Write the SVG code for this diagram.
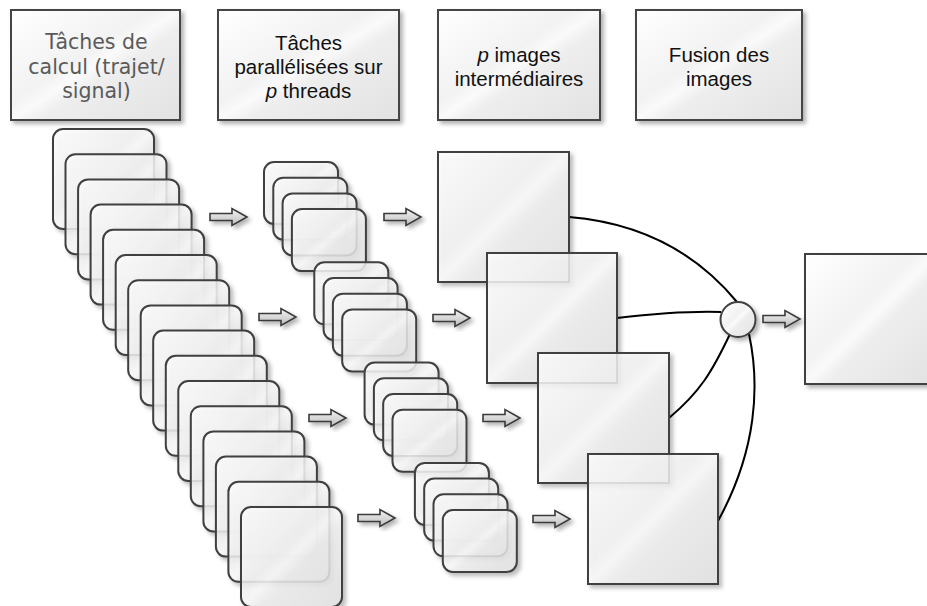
<svg xmlns="http://www.w3.org/2000/svg" xmlns:xlink="http://www.w3.org/1999/xlink" width="927" height="606" viewBox="0 0 927 606">
<defs>
<linearGradient id="g" x1="0" y1="0" x2="1" y2="1">
<stop offset="0" stop-color="#ffffff"/>
<stop offset="0.42" stop-color="#f2f2f2"/>
<stop offset="0.5" stop-color="#fafafa"/>
<stop offset="0.58" stop-color="#eeeeee"/>
<stop offset="1" stop-color="#e2e2e2"/>
</linearGradient>
<linearGradient id="ga" x1="0" y1="0" x2="0" y2="1">
<stop offset="0" stop-color="#f4f4f4"/>
<stop offset="1" stop-color="#bdbdbd"/>
</linearGradient>
<filter id="sh" x="-20%" y="-20%" width="150%" height="150%">
<feDropShadow dx="3" dy="3" stdDeviation="2" flood-color="#000" flood-opacity="0.3"/>
</filter>
<path id="arr" d="M0,-3.5 H22 V-8.5 L37,0 L22,8.5 V3.5 H0 Z"/>
</defs>
<style>
.hdr{fill:url(#g);stroke:#444;stroke-width:2;filter:url(#sh)}
.rs{fill:url(#g);fill-opacity:0.82;stroke:#404040;stroke-width:2;filter:url(#sh)}
.in{fill:none;stroke:#ffffff;stroke-width:1.2;opacity:0.7}
.sq{fill:url(#g);fill-opacity:0.82;stroke:#404040;stroke-width:2;filter:url(#sh)}
.ar{fill:url(#ga);stroke:#3a3a3a;stroke-width:1.6;filter:url(#sh)}
.t1{font-family:"DejaVu Sans",Verdana,sans-serif;font-size:20.5px;fill:#5a5a5a;text-anchor:middle}
.t2{font-family:"Liberation Sans",Arial,Helvetica,sans-serif;font-size:20.5px;fill:#111;text-anchor:middle}
.cn{fill:none;stroke:#000;stroke-width:2}
</style>
<rect width="927" height="606" fill="#fff"/>

<g id="h1"><rect class="hdr" x="11" y="10" width="169" height="110"/>
<text class="t1"><tspan x="96.5" y="49">Tâches de</tspan><tspan x="96.5" y="73.5">calcul (trajet/</tspan><tspan x="96.5" y="98">signal)</tspan></text></g>
<g id="h2"><rect class="hdr" x="218" y="10" width="181" height="110"/>
<text class="t2"><tspan x="308.5" y="50">Tâches</tspan><tspan x="308.5" y="74">parallélisées sur</tspan><tspan x="308.5" y="98"><tspan font-style="italic">p</tspan> threads</tspan></text></g>
<g id="h3"><rect class="hdr" x="438" y="10" width="162" height="110"/>
<text class="t2"><tspan x="519" y="62"><tspan font-style="italic">p</tspan> images</tspan><tspan x="519" y="86">intermédiaires</tspan></text></g>
<g id="h4"><rect class="hdr" x="636" y="10" width="166" height="110"/>
<text class="t2"><tspan x="719" y="62">Fusion des</tspan><tspan x="719" y="86">images</tspan></text></g>

<g id="tasks">
<g id="t0"><rect class="rs" x="53" y="129" width="101" height="100" rx="10"/></g>
<g id="t1"><rect class="rs" x="65.5" y="154.2" width="101" height="100" rx="10"/></g>
<g id="t2"><rect class="rs" x="78.1" y="179.4" width="101" height="100" rx="10"/></g>
<g id="t3"><rect class="rs" x="90.6" y="204.6" width="101" height="100" rx="10"/></g>
<g id="t4"><rect class="rs" x="103.1" y="229.8" width="101" height="100" rx="10"/></g>
<g id="t5"><rect class="rs" x="115.7" y="255" width="101" height="100" rx="10"/></g>
<g id="t6"><rect class="rs" x="128.2" y="280.2" width="101" height="100" rx="10"/></g>
<g id="t7"><rect class="rs" x="140.7" y="305.4" width="101" height="100" rx="10"/></g>
<g id="t8"><rect class="rs" x="153.2" y="330.6" width="101" height="100" rx="10"/></g>
<g id="t9"><rect class="rs" x="165.8" y="355.8" width="101" height="100" rx="10"/></g>
<g id="t10"><rect class="rs" x="178.3" y="381" width="101" height="100" rx="10"/></g>
<g id="t11"><rect class="rs" x="190.8" y="406.2" width="101" height="100" rx="10"/></g>
<g id="t12"><rect class="rs" x="203.4" y="431.4" width="101" height="100" rx="10"/></g>
<g id="t13"><rect class="rs" x="215.9" y="456.6" width="101" height="100" rx="10"/></g>
<g id="t14"><rect class="rs" x="228.4" y="481.8" width="101" height="100" rx="10"/></g>
<g id="t15"><rect class="rs" x="241" y="507" width="101" height="100" rx="10"/></g>
</g>

<g id="threads">
<g id="p0a"><rect class="rs" x="264" y="162" width="74" height="62" rx="10"/></g>
<g id="p0b"><rect class="rs" x="273.3" y="177.7" width="74" height="62" rx="10"/></g>
<g id="p0c"><rect class="rs" x="282.6" y="193.4" width="74" height="62" rx="10"/></g>
<g id="p0d"><rect class="rs" x="291.9" y="209.1" width="74" height="62" rx="10"/></g>
<g id="p1a"><rect class="rs" x="314.3" y="262.3" width="74" height="62" rx="10"/></g>
<g id="p1b"><rect class="rs" x="323.6" y="278" width="74" height="62" rx="10"/></g>
<g id="p1c"><rect class="rs" x="332.9" y="293.7" width="74" height="62" rx="10"/></g>
<g id="p1d"><rect class="rs" x="342.2" y="309.4" width="74" height="62" rx="10"/></g>
<g id="p2a"><rect class="rs" x="364.6" y="362.6" width="74" height="62" rx="10"/></g>
<g id="p2b"><rect class="rs" x="373.9" y="378.3" width="74" height="62" rx="10"/></g>
<g id="p2c"><rect class="rs" x="383.2" y="394" width="74" height="62" rx="10"/></g>
<g id="p2d"><rect class="rs" x="392.5" y="409.7" width="74" height="62" rx="10"/></g>
<g id="p3a"><rect class="rs" x="414.9" y="462.9" width="74" height="62" rx="10"/></g>
<g id="p3b"><rect class="rs" x="424.2" y="478.6" width="74" height="62" rx="10"/></g>
<g id="p3c"><rect class="rs" x="433.5" y="494.3" width="74" height="62" rx="10"/></g>
<g id="p3d"><rect class="rs" x="442.8" y="510" width="74" height="62" rx="10"/></g>
</g>

<g id="connectors">
<path class="cn" d="M569,217 C630,222 690,245 737,302"/>
<path class="cn" d="M617,318 C660,313 690,311 721,312"/>
<path class="cn" d="M669,418 C700,392 712,372 730,334"/>
<path class="cn" d="M749,334 C760,385 757,450 718,521"/>
</g>

<g id="img0"><rect class="sq" x="438" y="152" width="131" height="130"/></g>
<g id="img1"><rect class="sq" x="487" y="253" width="130" height="130"/></g>
<g id="img2"><rect class="sq" x="538" y="353" width="131" height="130"/></g>
<g id="img3"><rect class="sq" x="588" y="454" width="130" height="130"/></g>

<g id="fusion"><circle class="sq" cx="738" cy="319.5" r="17.5" style="fill-opacity:1"/></g>
<g id="result"><rect class="sq" x="805" y="254" width="130" height="130" style="fill-opacity:1"/></g>

<g id="arrows">
<use xlink:href="#arr" class="ar" transform="translate(210,217)"/>
<use xlink:href="#arr" class="ar" transform="translate(259,317)"/>
<use xlink:href="#arr" class="ar" transform="translate(309,418)"/>
<use xlink:href="#arr" class="ar" transform="translate(358,518)"/>
<use xlink:href="#arr" class="ar" transform="translate(384,217)"/>
<use xlink:href="#arr" class="ar" transform="translate(433,318)"/>
<use xlink:href="#arr" class="ar" transform="translate(483,418)"/>
<use xlink:href="#arr" class="ar" transform="translate(533,519)"/>
<use xlink:href="#arr" class="ar" transform="translate(763,319)"/>
</g>
</svg>
